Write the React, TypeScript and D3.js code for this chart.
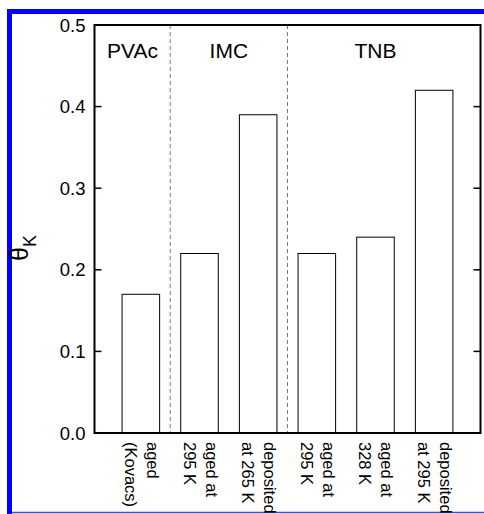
import React, { useRef, useEffect } from 'react';
import * as d3 from 'd3';

// bar categories, each label is split in lines (top line first)
const categories = ['aged (Kovacs)', 'aged at 295 K (IMC)', 'deposited at 265 K (IMC)', 'aged at 295 K (TNB)', 'aged at 328 K', 'deposited at 295 K'];
const labelLines = [
  ['aged', '(Kovacs)'],
  ['aged at', '295 K'],
  ['deposited', 'at 265 K'],
  ['aged at', '295 K'],
  ['aged at', '328 K'],
  ['deposited', 'at 295 K'],
];
const thetaK = [0.17, 0.22, 0.39, 0.22, 0.24, 0.42];
const yTicks = [0.0, 0.1, 0.2, 0.3, 0.4, 0.5];

// material groups: name + first/last bar index
const groupNames = ['PVAc', 'IMC', 'TNB'];
const groupFirst = [0, 1, 3];
const groupLast = [0, 2, 5];

const W = 484;
const H = 514;

export default function App() {
  const svgRef = useRef<SVGSVGElement>(null);

  useEffect(() => {
    if (!svgRef.current) return;
    const svg = d3.select(svgRef.current);
    svg.selectAll('*').remove();

    const font = '"Liberation Sans", Arial, sans-serif';
    const margin = { top: 25, right: 3.5, bottom: 81, left: 94.5 };
    const innerW = W - margin.left - margin.right;
    const innerH = H - margin.top - margin.bottom;

    // blue frame of the figure
    svg.append('line').attr('x1', 9.5).attr('x2', 9.5).attr('y1', 9).attr('y2', H)
      .attr('stroke', '#0000ff').attr('stroke-width', 5);
    svg.append('line').attr('x1', 7).attr('x2', W).attr('y1', 11.5).attr('y2', 11.5)
      .attr('stroke', '#0000ff').attr('stroke-width', 5);
    svg.append('line').attr('x1', 12).attr('x2', W).attr('y1', 512.5).attr('y2', 512.5)
      .attr('stroke', '#4a4ad6').attr('stroke-width', 1.5);

    const g = svg.append('g').attr('transform', `translate(${margin.left},${margin.top})`);

    const x = d3.scaleBand<string>()
      .domain(categories)
      .range([0, innerW])
      .paddingInner(0.36)
      .paddingOuter(0.47);

    const y = d3.scaleLinear().domain([0, 0.5]).range([innerH, 0]);

    // group separators (dashed)
    for (let i = 0; i < groupNames.length - 1; i++) {
      const a = x(categories[groupLast[i]])! + x.bandwidth();
      const b = x(categories[groupFirst[i + 1]])!;
      const sx = (a + b) / 2;
      g.append('line')
        .attr('x1', sx).attr('x2', sx).attr('y1', 0).attr('y2', innerH)
        .attr('stroke', '#555').attr('stroke-width', 0.8)
        .attr('stroke-dasharray', '4,3');
    }

    // bars
    g.selectAll('.bar')
      .data(thetaK)
      .enter()
      .append('rect')
      .attr('class', 'bar')
      .attr('x', (_, i) => x(categories[i])!)
      .attr('y', d => y(d))
      .attr('width', x.bandwidth())
      .attr('height', d => innerH - y(d))
      .attr('fill', 'white')
      .attr('stroke', '#000')
      .attr('stroke-width', 1);

    // group names
    groupNames.forEach((name, i) => {
      const a = x(categories[groupFirst[i]])!;
      const b = x(categories[groupLast[i]])! + x.bandwidth();
      let cx = (a + b) / 2;
      if (i === 0) cx = 38;
      g.append('text')
        .attr('x', cx).attr('y', 33)
        .attr('text-anchor', 'middle')
        .attr('font-family', font).attr('font-size', 21)
        .text(name);
    });

    // frame
    g.append('rect')
      .attr('x', 0).attr('y', 0).attr('width', innerW).attr('height', innerH)
      .attr('fill', 'none').attr('stroke', '#000').attr('stroke-width', 2);

    // y ticks (inward, both sides)
    yTicks.forEach(t => {
      const ty = y(t);
      g.append('line').attr('x1', 0).attr('x2', 7).attr('y1', ty).attr('y2', ty)
        .attr('stroke', '#000').attr('stroke-width', 1.5);
      g.append('line').attr('x1', innerW - 7).attr('x2', innerW).attr('y1', ty).attr('y2', ty)
        .attr('stroke', '#000').attr('stroke-width', 1.5);
      g.append('text')
        .attr('x', -9).attr('y', ty + 6.5)
        .attr('text-anchor', 'end')
        .attr('font-family', font).attr('font-size', 18.5)
        .text(d3.format('.1f')(t));
    });

    // rotated category labels
    labelLines.forEach((lines, i) => {
      const cx = x(categories[i])! + x.bandwidth() / 2;
      const t = g.append('text')
        .attr('transform', `translate(${cx},${innerH + 9}) rotate(90)`)
        .attr('font-family', font).attr('font-size', 16.5)
        .attr('text-anchor', 'start');
      lines.forEach((ln, k) => {
        t.append('tspan').attr('x', 0).attr('y', -6 + k * 22).text(ln);
      });
    });

    // y axis label θ_K
    const yl = svg.append('text')
      .attr('transform', `translate(28,${margin.top + innerH / 2 + 32}) rotate(-90)`)
      .attr('font-family', font).attr('font-size', 25);
    yl.append('tspan').text('θ');
    yl.append('tspan').attr('font-size', 18).attr('dy', 8).text('K');
  }, []);

  return (
    <svg
      ref={svgRef}
      width={W}
      height={H}
      style={{ position: 'absolute', left: 0, top: 0, background: 'white' }}
    />
  );
}
